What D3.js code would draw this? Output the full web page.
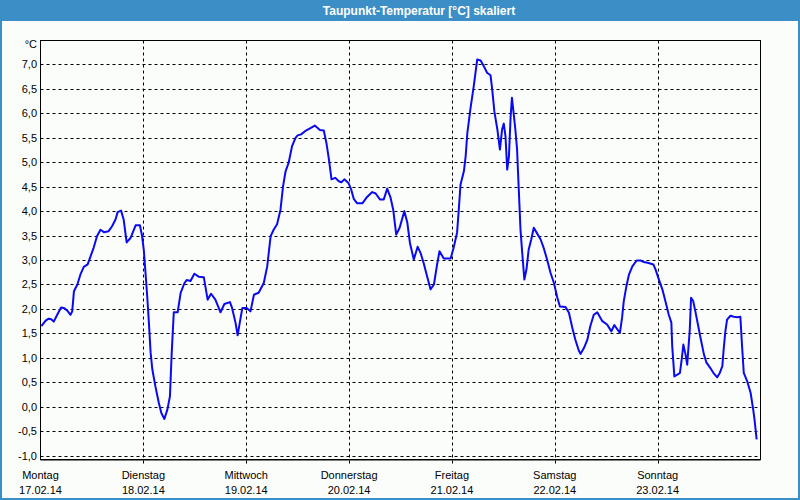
<!DOCTYPE html>
<html>
<head>
<meta charset="utf-8">
<script src="https://cdn.jsdelivr.net/npm/d3@7"></script>
<style>
  html, body { margin: 0; padding: 0; background: #fbfdfb; }
  svg { display: block; font-family: "Liberation Sans", Arial, sans-serif; }
</style>
</head>
<body>
<div id="chart"></div>
<script>
// hours since Monday 17.02.14 00:00
const hours = [
  0.2, 1.2, 1.9, 2.5, 3.1, 3.9, 4.8, 5.4, 6.2, 7.0, 7.4, 7.8, 8.6, 9.3, 10.1, 11.0, 11.7, 12.4, 13.2, 14.0,
  14.8, 15.9, 16.7, 17.5, 18.0, 18.8, 19.4, 20.1, 21.0, 21.8, 22.2, 23.2, 23.7, 24.1, 24.5, 24.9, 25.3, 25.7, 26.1, 26.8,
  27.6, 28.2, 28.9, 29.6, 30.2, 30.6, 31.1, 32.0, 32.7, 33.6, 34.1, 35.0, 35.9, 36.9, 38.1, 39.0, 39.8, 40.8, 42.0, 42.9,
  44.2, 44.7, 45.5, 46.0, 46.5, 47.1, 48.1, 49.0, 49.8, 50.9, 52.1, 52.9, 53.7, 54.4, 55.2, 56.0, 56.6, 57.2, 57.9, 58.7,
  59.5, 60.0, 60.8, 61.8, 63.0, 64.0, 65.2, 66.1, 66.7, 67.3, 67.9, 68.8, 69.6, 70.2, 70.9, 71.9, 72.5, 73.1, 73.9, 75.1,
  76.2, 77.4, 78.2, 79.2, 80.1, 80.9, 81.7, 82.3, 83.0, 83.8, 84.9, 85.6, 86.2, 87.1, 88.0, 88.7, 89.4, 90.2, 91.0, 91.8,
  92.6, 93.1, 94.1, 95.7, 96.4, 97.2, 97.6, 98.0, 98.8, 99.2, 99.6, 100.3, 101.1, 101.9, 102.7, 103.4, 104.2, 105.0, 105.4, 105.9,
  106.6, 107.2, 107.7, 108.1, 108.5, 108.9, 109.3, 109.7, 110.0, 110.3, 110.8, 111.2, 111.6, 112.0, 112.4, 112.9, 113.4, 113.9, 114.5, 115.1,
  115.9, 116.7, 117.4, 118.2, 119.0, 119.8, 120.6, 121.2, 122.5, 123.3, 124.1, 124.8, 125.6, 126.0, 126.8, 127.6, 128.3, 129.1, 129.9, 131.1,
  132.2, 133.2, 133.9, 134.6, 135.2, 135.7, 136.1, 136.7, 137.3, 138.1, 139.1, 140.0, 140.8, 141.9, 143.0, 143.5, 144.3, 145.1, 145.8, 146.6,
  147.2, 147.4, 147.9, 148.7, 149.2, 149.6, 150.0, 150.5, 150.9, 151.1, 151.5, 151.8, 152.3, 152.8, 153.4, 154.0, 154.8, 155.4, 156.3, 157.1,
  157.9, 158.5, 159.1, 159.4, 159.8, 160.2, 161.0, 161.8, 162.6, 163.3, 163.7, 164.1, 164.9, 165.7, 166.3, 166.6, 167.1
];
const dewpoint = [
  1.65, 1.76, 1.80, 1.79, 1.74, 1.88, 2.03, 2.02, 1.97, 1.88, 1.95, 2.36, 2.50, 2.70, 2.86, 2.91, 3.08, 3.25, 3.49, 3.62,
  3.57, 3.59, 3.69, 3.83, 3.98, 4.01, 3.83, 3.36, 3.45, 3.62, 3.71, 3.71, 3.49, 3.21, 2.74, 2.26, 1.71, 1.10, 0.76, 0.42,
  0.08, -0.13, -0.25, -0.06, 0.21, 1.07, 1.93, 1.93, 2.33, 2.53, 2.59, 2.57, 2.72, 2.66, 2.65, 2.19, 2.31, 2.19, 1.93, 2.10,
  2.14, 2.02, 1.72, 1.46, 1.72, 2.02, 2.02, 1.95, 2.29, 2.33, 2.53, 2.87, 3.49, 3.62, 3.73, 4.03, 4.51, 4.82, 4.99, 5.33,
  5.50, 5.55, 5.57, 5.64, 5.70, 5.75, 5.66, 5.65, 5.40, 5.06, 4.65, 4.68, 4.61, 4.59, 4.65, 4.57, 4.44, 4.25, 4.16, 4.16,
  4.29, 4.39, 4.36, 4.24, 4.24, 4.46, 4.27, 4.03, 3.52, 3.66, 4.00, 3.76, 3.35, 3.01, 3.27, 3.14, 2.94, 2.67, 2.40, 2.50,
  2.94, 3.18, 3.03, 3.03, 3.25, 3.56, 4.03, 4.54, 4.82, 5.12, 5.60, 6.08, 6.56, 7.10, 7.08, 6.97, 6.83, 6.78, 6.49, 6.04,
  5.67, 5.26, 5.67, 5.79, 5.53, 4.85, 5.12, 5.94, 6.32, 6.08, 5.67, 5.26, 4.44, 3.62, 3.15, 2.60, 2.81, 3.21, 3.42, 3.66,
  3.54, 3.42, 3.25, 3.01, 2.74, 2.53, 2.23, 2.05, 2.04, 1.92, 1.61, 1.37, 1.15, 1.08, 1.20, 1.37, 1.65, 1.88, 1.93, 1.75,
  1.68, 1.54, 1.67, 1.58, 1.51, 1.82, 2.16, 2.46, 2.70, 2.87, 2.99, 2.99, 2.96, 2.94, 2.91, 2.81, 2.60, 2.40, 2.16, 1.88,
  1.72, 1.24, 0.62, 0.66, 0.69, 0.96, 1.27, 1.07, 0.86, 1.10, 1.58, 2.23, 2.16, 1.95, 1.68, 1.41, 1.07, 0.90, 0.79, 0.68,
  0.60, 0.69, 0.83, 1.17, 1.54, 1.78, 1.86, 1.84, 1.83, 1.84, 1.24, 0.69, 0.52, 0.28, -0.06, -0.26, -0.67
];
const dayNames = ["Montag", "Dienstag", "Mittwoch", "Donnerstag", "Freitag", "Samstag", "Sonntag"];
const dayDates = ["17.02.14", "18.02.14", "19.02.14", "20.02.14", "21.02.14", "22.02.14", "23.02.14"];
const yTicks = d3.range(-1, 7.01, 0.5);

const W = 800, H = 500;
const plot = { left: 40.5, right: 760.5, top: 40.5, bottom: 459.5 };

const svg = d3.select('#chart').append('svg')
  .attr('width', W)
  .attr('height', H);

// outer frame + title bar
svg.append('rect')
  .attr('x', 1).attr('y', 1).attr('width', W - 2).attr('height', H - 2)
  .attr('fill', '#fbfdfb')
  .attr('stroke', '#3c8fc6').attr('stroke-width', 2);
svg.append('rect')
  .attr('x', 0).attr('y', 0).attr('width', W).attr('height', 21)
  .attr('fill', '#3c8fc6');
svg.append('text')
  .attr('x', 419).attr('y', 15)
  .attr('text-anchor', 'middle')
  .attr('fill', '#ffffff')
  .attr('font-size', '12px')
  .attr('font-weight', 'bold')
  .text('Taupunkt-Temperatur [°C] skaliert');

var x = d3.scaleLinear()
  .domain([0, 168])
  .range([plot.left, plot.right]);

var y = d3.scaleLinear()
  .domain([-1.08, 7.49])
  .range([plot.bottom, plot.top]);

const fmt = v => d3.format('.1f')(v).replace('.', ',').replace('−', '-');

// horizontal grid
svg.append('g').selectAll('line')
  .data(yTicks)
  .enter().append('line')
  .attr('x1', plot.left).attr('x2', plot.right)
  .attr('y1', d => Math.round(y(d)) + 0.5)
  .attr('y2', d => Math.round(y(d)) + 0.5)
  .attr('stroke', '#000')
  .attr('stroke-dasharray', '3,3');

svg.append('g').selectAll('text')
  .data(yTicks)
  .enter().append('text')
  .attr('x', 37)
  .attr('y', d => Math.round(y(d)) + 4)
  .attr('text-anchor', 'end')
  .attr('font-size', '11px')
  .attr('fill', '#000')
  .text(fmt);

svg.append('text')
  .attr('x', 37).attr('y', 48)
  .attr('text-anchor', 'end')
  .attr('font-size', '11px')
  .text('°C');

// vertical grid (day boundaries)
const days = d3.range(0, 7);
svg.append('g').selectAll('line')
  .data(days.slice(1))
  .enter().append('line')
  .attr('x1', d => Math.round(x(d * 24)) + 0.5)
  .attr('x2', d => Math.round(x(d * 24)) + 0.5)
  .attr('y1', plot.top).attr('y2', plot.bottom + 4)
  .attr('stroke', '#000')
  .attr('stroke-dasharray', '3,3');

// day labels
var dayLabel = svg.append('g').selectAll('g')
  .data(days)
  .enter().append('g')
  .attr('transform', d => 'translate(' + x(d * 24) + ',0)');
dayLabel.append('text')
  .attr('y', 479)
  .attr('text-anchor', 'middle')
  .attr('font-size', '11px')
  .text(d => dayNames[d]);
dayLabel.append('text')
  .attr('y', 494)
  .attr('text-anchor', 'middle')
  .attr('font-size', '11px')
  .text(d => dayDates[d]);

// plot frame
svg.append('rect')
  .attr('x', plot.left).attr('y', plot.top)
  .attr('width', plot.right - plot.left)
  .attr('height', plot.bottom - plot.top)
  .attr('fill', 'none')
  .attr('stroke', '#000');
svg.append('line')
  .attr('x1', plot.left).attr('x2', plot.right)
  .attr('y1', plot.bottom + 0.5).attr('y2', plot.bottom + 0.5)
  .attr('stroke', '#000');

// dew point line
const line = d3.line()
  .x((d, i) => x(hours[i]))
  .y(d => y(d));

svg.append('path')
  .datum(dewpoint)
  .attr('fill', 'none')
  .attr('stroke', '#0a0af0')
  .attr('stroke-width', 2)
  .attr('stroke-linejoin', 'round')
  .attr('d', line);
</script>
</body>
</html>
